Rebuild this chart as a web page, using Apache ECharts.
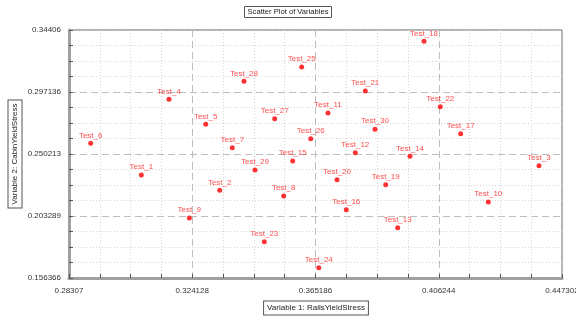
<!DOCTYPE html>
<html><head><meta charset="utf-8">
<script src="https://cdn.jsdelivr.net/npm/echarts@6/dist/echarts.min.js"></script>
<style>html,body{margin:0;padding:0;background:#fff}#c{width:576px;height:320px}</style>
</head><body><div id="c"></div>
<script>
const pointNames = ['Test_1','Test_2','Test_3','Test_4','Test_5','Test_6','Test_7','Test_8','Test_9','Test_10',
  'Test_11','Test_12','Test_13','Test_14','Test_15','Test_16','Test_17','Test_18','Test_19','Test_20',
  'Test_21','Test_22','Test_23','Test_24','Test_25','Test_26','Test_27','Test_28','Test_29','Test_30'];
const railsYieldStress = [0.30716,0.33327,0.43964,0.31638,0.32861,0.29030,0.33747,0.35459,0.32314,0.42275,
  0.36935,0.37844,0.39257,0.39666,0.35759,0.37544,0.41355,0.40133,0.38857,0.37235,
  0.38177,0.40676,0.34813,0.36628,0.36059,0.36359,0.35159,0.34137,0.34503,0.38501];
const cabinYieldStress = [0.23432,0.22274,0.24136,0.29161,0.27269,0.25831,0.25498,0.21843,0.20178,0.21389,
  0.28124,0.25120,0.19444,0.24847,0.24492,0.20806,0.26558,0.33551,0.22698,0.23076,
  0.29789,0.28601,0.18384,0.16416,0.31606,0.26172,0.27693,0.30523,0.23810,0.26891];
const xTickValues = [0.28307,0.324128,0.365186,0.406244,0.447302];
const xTickLabels = ['0.28307','0.324128','0.365186','0.406244','0.447302'];
const yTickValues = [0.156366,0.203289,0.250213,0.297136,0.34406];
const yTickLabels = ['0.156366','0.203289','0.250213','0.297136','0.34406'];

function minors(t){const r=[];for(let i=0;i<t.length-1;i++){const s=(t[i+1]-t[i])/4;for(let k=1;k<4;k++)r.push(t[i]+s*k);}return r;}
function labelFor(vals,labs){return v=>{let b=0;for(let i=1;i<vals.length;i++)if(Math.abs(vals[i]-v)<Math.abs(vals[b]-v))b=i;return labs[b];};}
const FONT='"Liberation Sans", Arial, sans-serif';
const xMin=xTickValues[0], xMax=xTickValues[xTickValues.length-1];
const yMin=yTickValues[0], yMax=yTickValues[yTickValues.length-1];

const chart = echarts.init(document.getElementById('c'), null, {renderer:'canvas'});
chart.setOption({
  animation:false,
  backgroundColor:'#fff',
  textStyle:{fontFamily:FONT},
  title:{text:'Scatter Plot of Variables', left:'center', top:6,
    padding:[2,3,2,3], borderColor:'#555', borderWidth:1,
    textStyle:{fontSize:7.6, fontWeight:'normal', color:'#222', fontFamily:FONT}},
  grid:{left:69, right:14, top:30, bottom:42, outerBoundsMode:'none', containLabel:false,
    show:true, borderColor:'#666', borderWidth:1, backgroundColor:'transparent'},
  xAxis:[
    {type:'value', min:xMin, max:xMax, position:'bottom',
      axisLine:{show:true, onZero:false, lineStyle:{color:'#a0a0a0', width:3}},
      axisTick:{show:true, inside:true, length:4, customValues:xTickValues, lineStyle:{color:'#555'}},
      axisLabel:{show:true, customValues:xTickValues, margin:9, fontSize:8, color:'#333', fontFamily:FONT, formatter:labelFor(xTickValues,xTickLabels)},
      splitLine:{show:true, lineStyle:{color:'#bdbdbd', type:[7,4], width:1}}},
    {type:'value', min:xMin, max:xMax, position:'bottom',
      axisLine:{show:false},
      axisTick:{show:true, inside:true, length:4, customValues:minors(xTickValues), lineStyle:{color:'#555'}},
      axisLabel:{show:false},
      splitLine:{show:true, lineStyle:{color:'#d4d4d4', type:[1,2], width:1}}}
  ],
  yAxis:[
    {type:'value', min:yMin, max:yMax, position:'left',
      axisLine:{show:true, onZero:false, lineStyle:{color:'#a0a0a0', width:3}},
      axisTick:{show:true, inside:true, length:4, customValues:yTickValues, lineStyle:{color:'#555'}},
      axisLabel:{show:true, customValues:yTickValues, margin:8, fontSize:8, color:'#333', fontFamily:FONT, formatter:labelFor(yTickValues,yTickLabels)},
      splitLine:{show:true, lineStyle:{color:'#bdbdbd', type:[7,4], width:1}}},
    {type:'value', min:yMin, max:yMax, position:'left',
      axisLine:{show:false},
      axisTick:{show:true, inside:true, length:4, customValues:minors(yTickValues), lineStyle:{color:'#555'}},
      axisLabel:{show:false},
      splitLine:{show:true, lineStyle:{color:'#d4d4d4', type:[1,2], width:1}}}
  ],
  graphic:[
    {type:'text', x:316, y:308, z:100,
      style:{text:'Variable 1: RailsYieldStress', fontSize:8, fontFamily:FONT, fill:'#222', align:'center', verticalAlign:'middle',
        padding:[3,3,2,3], borderColor:'#555', borderWidth:1, backgroundColor:'#fff'}},
    {type:'text', x:15, y:154, rotation:Math.PI/2, z:100,
      style:{text:'Variable 2: CabinYieldStress', fontSize:8, fontFamily:FONT, fill:'#222', align:'center', verticalAlign:'middle',
        padding:[3,3,2,3], borderColor:'#555', borderWidth:1, backgroundColor:'#fff'}}
  ],
  series:[{
    type:'scatter', xAxisIndex:0, yAxisIndex:0,
    symbol:'circle', symbolSize:5,
    itemStyle:{color:'#ff0000'},
    label:{show:true, position:'top', distance:1, formatter:'{b}', fontSize:8, color:'#ff2020', fontFamily:FONT, lineHeight:9},
    data:pointNames.map((n,i)=>({name:n, value:[railsYieldStress[i], cabinYieldStress[i]]}))
  }]
});
</script></body></html>
